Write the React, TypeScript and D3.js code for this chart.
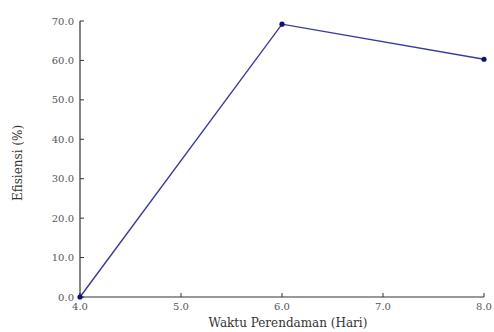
import { useEffect, useRef } from "react";
import * as d3 from "d3";

const days = [4, 6, 8];
const efficiency = [0, 69.2, 60.3];
const xTicks = [4, 5, 6, 7, 8];
const yTicks = [0, 10, 20, 30, 40, 50, 60, 70];

export default function App() {
  const ref = useRef<SVGSVGElement>(null);

  useEffect(() => {
    const svg = d3.select(ref.current);
    svg.selectAll("*").remove();

    const x = d3.scaleLinear().domain([4, 8]).range([80, 484]);
    const y = d3.scaleLinear().domain([0, 70]).range([297, 21]);
    const font = "DejaVu Serif, serif";
    const axisColor = "#333";

    // axes lines
    svg.append("line")
      .attr("x1", x(4)).attr("x2", x(8))
      .attr("y1", y(0)).attr("y2", y(0))
      .attr("stroke", axisColor).attr("stroke-width", 1.2);
    svg.append("line")
      .attr("x1", x(4)).attr("x2", x(4))
      .attr("y1", y(0)).attr("y2", y(70))
      .attr("stroke", axisColor).attr("stroke-width", 1.2);

    // y ticks (inward)
    const yt = svg.selectAll(".yt").data(yTicks).enter().append("g");
    yt.append("line")
      .attr("x1", x(4)).attr("x2", x(4) + 4)
      .attr("y1", (d) => y(d)).attr("y2", (d) => y(d))
      .attr("stroke", axisColor);
    yt.append("text")
      .attr("x", x(4) - 6)
      .attr("y", (d) => y(d) + 3.5)
      .attr("text-anchor", "end")
      .attr("font-family", font)
      .attr("font-size", 10)
      .attr("fill", "#555")
      .text((d) => d.toFixed(1));

    // x ticks (inward)
    const xt = svg.selectAll(".xt").data(xTicks).enter().append("g");
    xt.append("line")
      .attr("x1", (d) => x(d)).attr("x2", (d) => x(d))
      .attr("y1", y(0)).attr("y2", y(0) - 4)
      .attr("stroke", axisColor);
    xt.append("text")
      .attr("x", (d) => x(d))
      .attr("y", y(0) + 13)
      .attr("text-anchor", "middle")
      .attr("font-family", font)
      .attr("font-size", 10)
      .attr("fill", "#555")
      .text((d) => d.toFixed(1));

    // axis titles
    svg.append("text")
      .attr("x", 288).attr("y", 327)
      .attr("text-anchor", "middle")
      .attr("font-family", font)
      .attr("font-size", 12)
      .attr("fill", "#333")
      .text("Waktu Perendaman (Hari)");
    svg.append("text")
      .attr("transform", "translate(22,163) rotate(-90)")
      .attr("text-anchor", "middle")
      .attr("font-family", font)
      .attr("font-size", 12)
      .attr("fill", "#333")
      .text("Efisiensi (%)");

    // series
    const line = d3.line<number>()
      .x((_, i) => x(days[i]))
      .y((d) => y(d));
    svg.append("path")
      .datum(efficiency)
      .attr("d", line)
      .attr("fill", "none")
      .attr("stroke", "#3a3a9c")
      .attr("stroke-width", 1.4);
    svg.selectAll(".pt").data(efficiency).enter().append("circle")
      .attr("cx", (_, i) => x(days[i]))
      .attr("cy", (d) => y(d))
      .attr("r", 2.6)
      .attr("fill", "#10106e");
  }, []);

  return (
    <svg
      ref={ref}
      width={494}
      height={332}
      style={{ position: "absolute", left: 0, top: 0, background: "#fff" }}
    />
  );
}
